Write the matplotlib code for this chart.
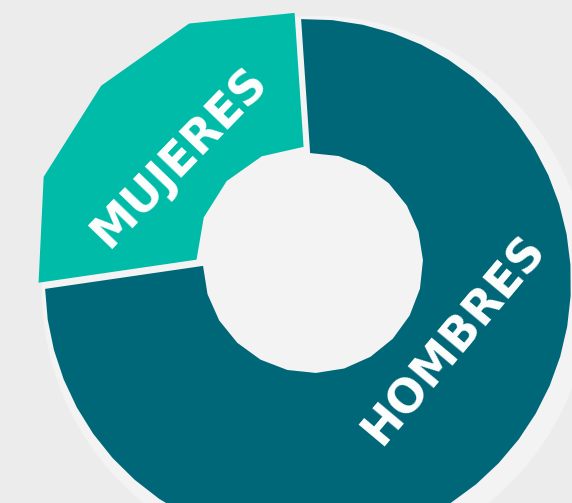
import numpy as np
import matplotlib
matplotlib.use('Agg')
import matplotlib.pyplot as plt
from matplotlib.patches import Circle, Polygon

labels = ['HOMBRES', 'MUJERES']
values = [75, 25]
colors = ['#006778', '#00bba7']
explode = [0, 9]    # pie explode is in data units here (pixels)
segments = [40, 4]  # low-poly look of each piece

fig = plt.figure(figsize=(5.72, 5.03), dpi=100)
fig.patch.set_facecolor('#ececec')
ax = fig.add_axes([0, 0, 1, 1])
ax.set_facecolor('#ececec')

cx, cy, r = 308, 503 - 282, 263.0
hole_shift = (5, 19)  # hole sits a bit higher than the ring centre

# soft light halo behind the ring
ax.add_patch(Circle((cx + 8, cy - 8), r * 1.04, color='#f3f3f3', zorder=0))

wedges, _ = ax.pie(values, colors=colors, explode=explode, startangle=91.5,
                   counterclock=False, center=(cx, cy), radius=r,
                   wedgeprops=dict(width=r - 110, linewidth=0))


def poly_wedge(w, n_out, n_in, bulge=1.0):
    # rebuild the wedge as a faceted polygon
    t_out = np.radians(np.linspace(w.theta1, w.theta2, n_out + 1))
    t_in = np.radians(np.linspace(w.theta2, w.theta1, n_in + 1))
    x0, y0 = w.center
    ri = w.r - w.width
    ro = np.full(len(t_out), float(w.r))
    ro[1:-1] *= bulge
    outer = np.column_stack([x0 + ro * np.cos(t_out), y0 + ro * np.sin(t_out)])
    inner = np.column_stack([x0 + hole_shift[0] + ri * np.cos(t_in),
                             y0 + hole_shift[1] + ri * np.sin(t_in)])
    p = Polygon(np.vstack([outer, inner]), closed=True,
                facecolor=w.get_facecolor(), linewidth=0, zorder=2)
    ax.add_patch(p)
    w.set_visible(False)


poly_wedge(wedges[0], segments[0], 18)
poly_wedge(wedges[1], segments[1], 4, bulge=1.05)

ax.set_xlim(0, 572)
ax.set_ylim(0, 503)
ax.axis('off')

ax.text(180, 503 - 157, 'MUJERES', rotation=46, color='white', fontsize=33,
        fontweight='bold', ha='center', va='center', zorder=3)
ax.text(455, 503 - 340, 'HOMBRES', rotation=50, color='white', fontsize=33,
        fontweight='bold', ha='center', va='center', zorder=3)

fig.savefig('out.png', dpi=100, facecolor=fig.get_facecolor())
